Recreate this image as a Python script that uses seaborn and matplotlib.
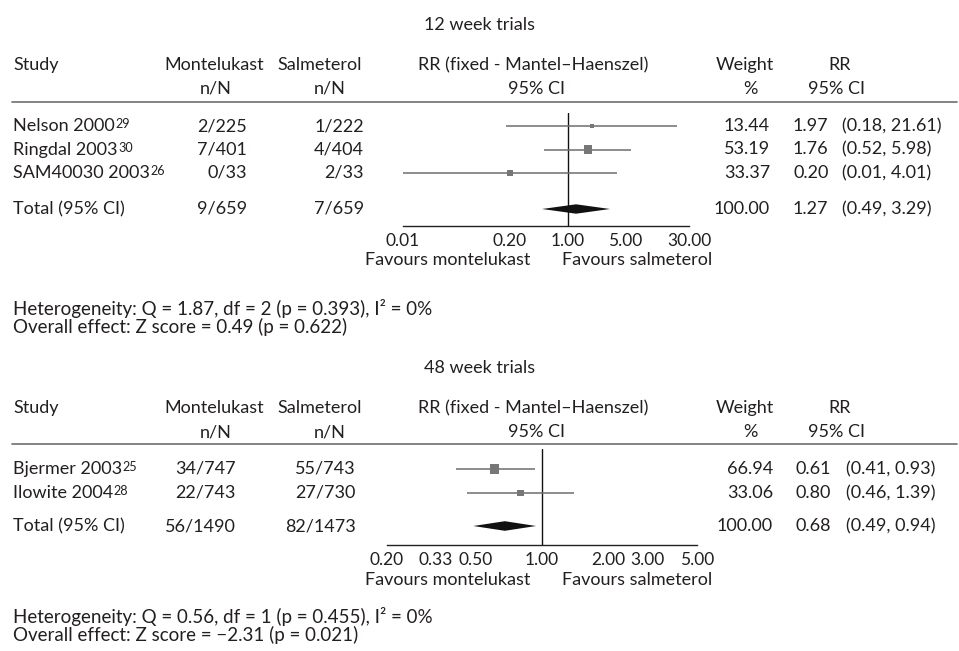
"""
plot.py
Forest plots: montelukast vs salmeterol, 12 and 48 week trials
"""

import matplotlib

matplotlib.use("Agg")
import matplotlib.pyplot as plt
import seaborn as sns
import pandas as pd

# ---- 12 week trials ----
studies_12 = ["Nelson 2000", "Ringdal 2003", "SAM40030 2003"]
refs_12 = ["29", "30", "26"]
mont_12 = ["2/225", "7/401", "0/33"]
salm_12 = ["1/222", "4/404", "2/33"]
weight_12 = [13.44, 53.19, 33.37]
rr_12 = [1.97, 1.76, 0.20]
lo_12 = [0.18, 0.52, 0.01]
hi_12 = [21.61, 5.98, 4.01]
total_counts_12 = ["9/659", "7/659"]
total_rr_12 = [1.27, 0.49, 3.29]
ticks_12 = [0.01, 0.20, 1.00, 5.00, 30.00]
het_12 = [1.87, 2, 0.393, 0]
effect_12 = ["0.49", 0.622]

# ---- 48 week trials ----
studies_48 = ["Bjermer 2003", "Ilowite 2004"]
refs_48 = ["25", "28"]
mont_48 = ["34/747", "22/743"]
salm_48 = ["55/743", "27/730"]
weight_48 = [66.94, 33.06]
rr_48 = [0.61, 0.80]
lo_48 = [0.41, 0.46]
hi_48 = [0.93, 1.39]
total_counts_48 = ["56/1490", "82/1473"]
total_rr_48 = [0.68, 0.49, 0.94]
ticks_48 = [0.20, 0.33, 0.50, 1.00, 2.00, 3.00, 5.00]
het_48 = [0.56, 1, 0.455, 0]
effect_48 = ["\u22122.31", 0.021]

FS = 13
sns.set_theme(style="white")
plt.rcParams["font.family"] = ["Lato", "DejaVu Sans"]
plt.rcParams["font.size"] = FS
plt.rcParams["text.color"] = "#231f20"

TXT = "#231f20"
GREY = "#6e6e6e"
W, H = 959, 651

fig = plt.figure(figsize=(W / 100, H / 100), dpi=100)
bg = fig.add_axes([0, 0, 1, 1])
bg.set_xlim(0, W)
bg.set_ylim(H, 0)
bg.set_axis_off()


def px_axes(left, top, width, height):
    ax = fig.add_axes([left / W, 1 - (top + height) / H, width / W, height / H])
    ax.patch.set_visible(False)
    return ax


def draw_panel(title, studies, refs, mont, salm, weight, rr, lo, hi,
               total_counts, total_rr, ticks, het, effect, lay):
    n = len(studies)
    y0, step = lay["row0"], lay["step"]
    rows_px = [y0 + i * step for i in range(n)]

    # headers
    bg.text(480, lay["title"], title, ha="center", va="center")
    h1, h2 = lay["head1"], lay["head1"] + 24
    bg.text(13, h1, "Study", va="center")
    bg.text(214, h1, "Montelukast", ha="center", va="center")
    bg.text(216, h2, "n/N", ha="center", va="center")
    bg.text(320, h1, "Salmeterol", ha="center", va="center")
    bg.text(330, h2, "n/N", ha="center", va="center")
    bg.text(533, h1, "RR (fixed - Mantel\u2013Haenszel)", ha="center", va="center")
    bg.text(536, h2, "95% CI", ha="center", va="center")
    bg.text(745, h1, "Weight", ha="center", va="center")
    bg.text(750, h2, "%", ha="center", va="center")
    bg.text(840, h1, "RR", ha="center", va="center")
    bg.text(836, h2, "95% CI", ha="center", va="center")
    bg.plot([12, 957], [lay["rule"], lay["rule"]], color=GREY, lw=1.2)

    # study rows
    mx, sx = lay["count_x"]
    for i in range(n):
        y = rows_px[i]
        t = bg.text(13, y, studies[i], va="center")
        bg.annotate(refs[i], xy=(1, 1), xycoords=t, xytext=(0.5, 0),
                    textcoords="offset points", ha="left", va="top",
                    fontsize=FS * 0.7)
        bg.text(mx, y, mont[i], ha="right", va="center")
        bg.text(sx, y, salm[i], ha="right", va="center")
        bg.text(lay["w_x"], y, f"{weight[i]:.2f}", ha="right", va="center")
        bg.text(lay["rr_x"], y, f"{rr[i]:.2f}", ha="left", va="center")
        bg.text(lay["ci_x"], y, f"({lo[i]:.2f}, {hi[i]:.2f})", ha="left", va="center")

    # total row
    ty = lay["total"]
    bg.text(13, ty, "Total (95% CI)", va="center")
    bg.text(mx, ty, total_counts[0], ha="right", va="center")
    bg.text(sx, ty, total_counts[1], ha="right", va="center")
    bg.text(lay["w_x"], ty, f"{100:.2f}", ha="right", va="center")
    bg.text(lay["rr_x"], ty, f"{total_rr[0]:.2f}", ha="left", va="center")
    bg.text(lay["ci_x"], ty, f"({total_rr[1]:.2f}, {total_rr[2]:.2f})",
            ha="left", va="center")

    # forest axes
    left, right = lay["ax_x"]
    top, spine = lay["ax_top"], lay["spine"]
    ax = px_axes(left, top, right - left, spine - top)
    ax.set_xscale("log")

    df = pd.DataFrame({"rr": rr, "lo": lo, "hi": hi, "weight": weight,
                       "row": range(n)})
    ax.hlines(df["row"], df["lo"], df["hi"], color=GREY, lw=1.1, zorder=2)
    sns.scatterplot(data=df, x="rr", y="row", size="weight", size_norm=(0, 100),
                    sizes=(0, 68), marker="s", color="#777777", edgecolor="none",
                    legend=False, ax=ax, zorder=3)

    t_row = (ty - y0) / step
    est, tlo, thi = total_rr
    ax.fill([tlo, est, thi, est], [t_row, t_row - 0.2, t_row, t_row + 0.2],
            color="#111111", lw=0, zorder=3)
    ax.axvline(1, color="#111111", lw=1.0, zorder=1)

    ax.set_xlim(lay["xlim"])
    ax.set_ylim((spine - y0) / step, (top - y0) / step)
    ax.set_xticks(ticks)
    ax.set_xticklabels([f"{t:.2f}" for t in ticks])
    ax.minorticks_off()
    ax.set_yticks([])
    ax.set_xlabel("")
    ax.set_ylabel("")
    for s in ["left", "right", "top"]:
        ax.spines[s].set_visible(False)
    ax.spines["bottom"].set_color("#222222")
    ax.spines["bottom"].set_linewidth(1.0)
    ax.spines["bottom"].set_bounds(ticks[0], ticks[-1])
    ax.tick_params(axis="x", direction="in", length=10, width=1.0,
                   color=GREY, pad=5, labelsize=12.5, labelcolor=TXT)

    fy = lay["favours"]
    bg.text(530, fy, "Favours montelukast", ha="right", va="center")
    bg.text(562, fy, "Favours salmeterol", ha="left", va="center")

    q, dfree, p, i2 = het
    bg.text(13, lay["het"],
            f"Heterogeneity: Q = {q:.2f}, df = {dfree} (p = {p:.3f}), I\u00b2 = {i2}%",
            va="center", fontsize=13.5)
    bg.text(13, lay["het"] + 18,
            f"Overall effect: Z score = {effect[0]} (p = {effect[1]:.3f})",
            va="center", fontsize=13.5)


layout_12 = dict(title=25, head1=65, rule=102, row0=126, step=23.5, total=209,
                 count_x=(247, 364), w_x=770, rr_x=793, ci_x=842,
                 ax_x=(403, 689), xlim=(0.01, 30), ax_top=113, spine=226,
                 favours=260, het=309)
layout_48 = dict(title=368, head1=408, rule=444, row0=469, step=24, total=526,
                 count_x=(236, 356), w_x=773, rr_x=796, ci_x=846,
                 ax_x=(387, 697), xlim=(0.2, 5), ax_top=449, spine=545,
                 favours=580, het=617)

draw_panel("12 week trials", studies_12, refs_12, mont_12, salm_12, weight_12,
           rr_12, lo_12, hi_12, total_counts_12, total_rr_12, ticks_12,
           het_12, effect_12, layout_12)
draw_panel("48 week trials", studies_48, refs_48, mont_48, salm_48, weight_48,
           rr_48, lo_48, hi_48, total_counts_48, total_rr_48, ticks_48,
           het_48, effect_48, layout_48)

fig.savefig("out.png", dpi=100)
